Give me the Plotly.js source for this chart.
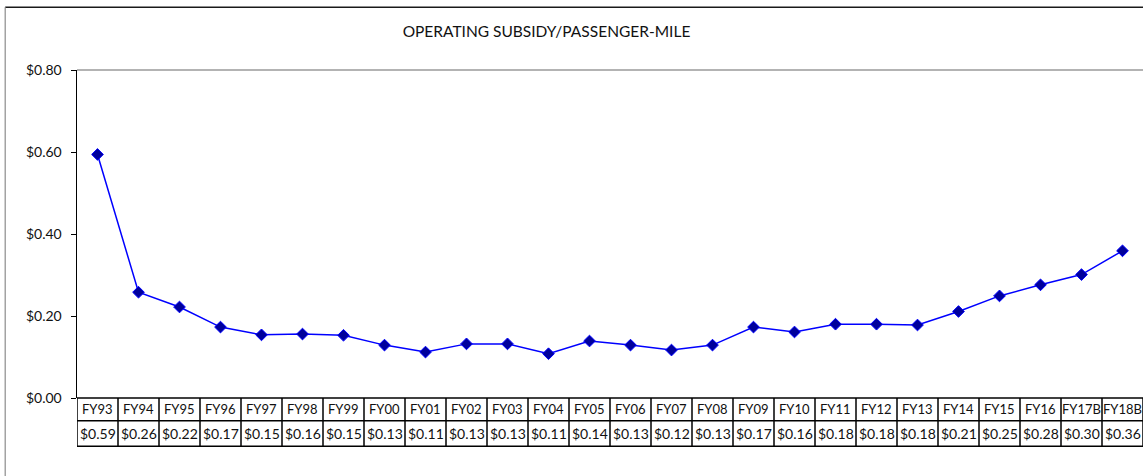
<!DOCTYPE html>
<html>
<head>
<meta charset="utf-8">
<script src="https://cdn.plot.ly/plotly-3.0.1.min.js"></script>
<style>
html,body{margin:0;padding:0;background:#fff;}
#chart{width:1143px;height:476px;}
</style>
</head>
<body>
<div id="chart"></div>
<script>
// ---- data ----
const categories = ["FY93","FY94","FY95","FY96","FY97","FY98","FY99","FY00","FY01","FY02","FY03","FY04","FY05",
  "FY06","FY07","FY08","FY09","FY10","FY11","FY12","FY13","FY14","FY15","FY16","FY17B","FY18B"];
const subsidy = [0.594,0.258,0.222,0.173,0.154,0.156,0.153,0.129,0.112,0.132,0.132,0.108,0.139,
  0.129,0.117,0.129,0.173,0.161,0.180,0.180,0.178,0.211,0.249,0.276,0.301,0.359];
const yTicks = [0, 0.2, 0.4, 0.6, 0.8];
const titleText = "OPERATING SUBSIDY/PASSENGER-MILE";

// ---- layout geometry (pixels) ----
const W = 1143, H = 476;
const mL = 77, mR = 0, mT = 70, mB = 78;
const plotH = H - mT - mB;
const plotW = W - mL - mR;
const py = p => (H - mB - p) / plotH;     // pixel y -> paper y
const px = p => (p - mL) / plotW;         // pixel x -> paper x

const FONT = "Lato, 'Open Sans', sans-serif";
const n = categories.length;

const shapes = [];
const annotations = [];
const tblTop = 0, tblMid = py(420.7), tblBot = py(446.3);
const black = {color: "#000", width: 1.5};

// horizontal table lines
[tblTop, tblMid, tblBot].forEach(y => {
  shapes.push({type: "line", xref: "x", yref: "paper", x0: -0.5, x1: n - 0.5, y0: y, y1: y, line: black});
});
// vertical table lines
for (let i = 0; i <= n; i++) {
  shapes.push({type: "line", xref: "x", yref: "paper", x0: i - 0.5, x1: i - 0.5, y0: tblTop, y1: tblBot, line: black});
}
// legend-key cell at the left of the value row
const keyX = (69 - mL) / (plotW / n) - 0.5;
shapes.push({type: "line", xref: "x", yref: "paper", x0: keyX, x1: -0.5, y0: tblMid, y1: tblMid, line: black});
shapes.push({type: "line", xref: "x", yref: "paper", x0: keyX, x1: -0.5, y0: tblBot, y1: tblBot, line: black});
shapes.push({type: "line", xref: "x", yref: "paper", x0: keyX, x1: keyX, y0: tblMid, y1: tblBot, line: black});

// plot-area top border
shapes.push({type: "line", xref: "paper", yref: "paper", x0: 0, x1: 1, y0: 1, y1: 1, line: {color: "#9a9a9a", width: 1.5}});
// chart outer border (top dark, left gray)
shapes.push({type: "line", xref: "paper", yref: "paper", x0: px(5.2), x1: 1, y0: py(7.3), y1: py(7.3), line: {color: "#1a1a1a", width: 1.5}});
shapes.push({type: "line", xref: "paper", yref: "paper", x0: px(5.2), x1: px(5.2), y0: py(7.3), y1: py(H + 2), line: {color: "#8c8c8c", width: 1.2}});

// table text
categories.forEach((c, i) => {
  annotations.push({xref: "x", yref: "paper", x: i, y: (tblTop + tblMid) / 2, text: c, showarrow: false,
    xanchor: "center", yanchor: "middle", font: {family: FONT, size: 13, color: "#111"}});
  annotations.push({xref: "x", yref: "paper", x: i, y: (tblMid + tblBot) / 2, text: "$" + subsidy[i].toFixed(2), showarrow: false,
    xanchor: "center", yanchor: "middle", font: {family: FONT, size: 14, color: "#111"}});
});

const trace = {
  x: categories.map((c, i) => i),
  y: subsidy,
  type: "scatter",
  mode: "lines+markers",
  line: {color: "#0000FF", width: 1.5},
  marker: {symbol: "diamond", size: 9, color: "#00009C", line: {color: "#0000FF", width: 1}},
  hoverinfo: "skip",
  cliponaxis: false
};

const layout = {
  width: W, height: H,
  margin: {l: mL, r: mR, t: mT, b: mB, pad: 0},
  paper_bgcolor: "#fff", plot_bgcolor: "#fff",
  showlegend: false,
  title: {text: titleText, font: {family: FONT, size: 15.5, color: "#111"},
    xref: "container", x: 546.5 / W, xanchor: "center", yref: "container", y: 1 - 32 / H, yanchor: "middle"},
  xaxis: {range: [-0.5, n - 0.5], showticklabels: false, showgrid: false, zeroline: false, showline: false, ticks: "", fixedrange: true},
  yaxis: {range: [0, 0.8], tickvals: yTicks, tickformat: "$.2f", showgrid: false, zeroline: false,
    showline: true, linecolor: "#000", linewidth: 1.5, ticks: "outside", ticklen: 5, tickcolor: "#000", tickwidth: 1,
    ticklabelstandoff: 6, tickfont: {family: FONT, size: 14, color: "#111"}, fixedrange: true},
  shapes: shapes,
  annotations: annotations
};

Plotly.newPlot("chart", [trace], layout, {displayModeBar: false, staticPlot: true});
</script>
</body>
</html>
